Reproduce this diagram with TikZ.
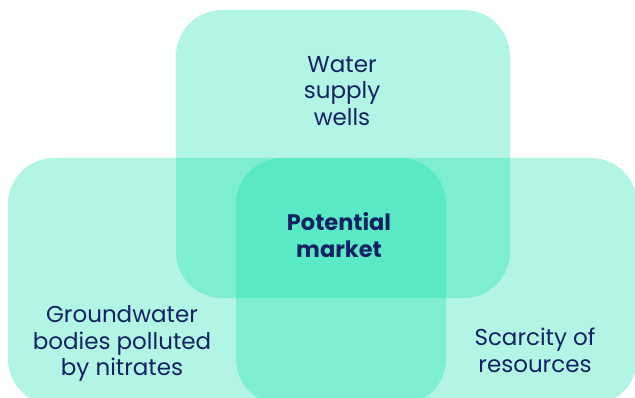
\documentclass[tikz,border=0pt]{standalone}
\usepackage{fontspec}
\setmainfont{Poppins}
\definecolor{mint}{RGB}{18,224,172}
\definecolor{navy}{RGB}{18,34,98}
\begin{document}
\begin{tikzpicture}[x=1pt,y=-1pt,
  setbox/.style={fill=mint,fill opacity=0.325,draw=none,rounded corners=46pt},
  label/.style={text=navy,align=center,font=\fontsize{23}{26.5}\selectfont}]
  \useasboundingbox (0,0) rectangle (635,398);
  \clip (0,0) rectangle (635,398);
  % the three overlapping sets
  \fill[setbox] (176,10) rectangle (510,298);
  \fill[setbox] (8,158) rectangle (446,405);
  \fill[setbox] (236,158) rectangle (637,405);
  % labels (anchored on the baseline of the last line)
  \node[label,anchor=base] (water) at (342,125.5) {Water\\supply\\wells};
  \node[label,anchor=base,font=\fontsize{22.5}{27}\selectfont\bfseries] (market) at (339,257.5) {Potential\\market};
  \node[label,anchor=base] (ground) at (122,375.5) {Groundwater\\bodies polluted\\by nitrates};
  \node[label,anchor=base] (scarcity) at (535,372) {Scarcity of\\resources};
\end{tikzpicture}
\end{document}
